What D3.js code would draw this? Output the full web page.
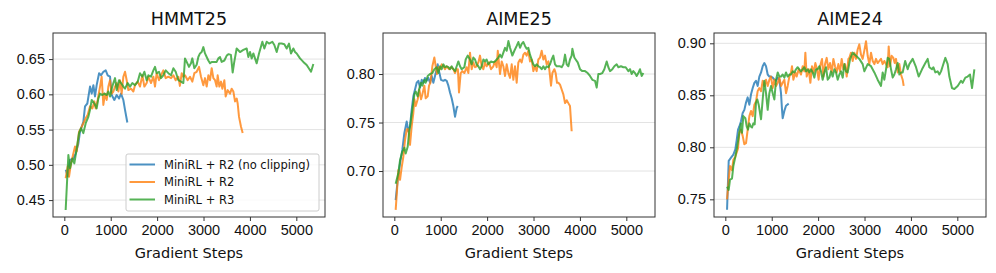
<!DOCTYPE html>
<html>
<head>
<meta charset="utf-8">
<script src="https://cdn.jsdelivr.net/npm/d3@7"></script>
<style>
    html, body { margin: 0; padding: 0; background: #fff; }
    svg { display: block; font-family: 'DejaVu Sans', sans-serif; }
</style>
</head>
<body>
<svg id="chart" width="996" height="273"></svg>
<script>
// === DATA ===
const panelTitles = ['HMMT25', 'AIME25', 'AIME24']
const seriesNames = ['MiniRL + R2 (no clipping)', 'MiniRL + R2', 'MiniRL + R3']
const xTicks = [0, 1000, 2000, 3000, 4000, 5000]
const yTicksHmmt = [0.45, 0.50, 0.55, 0.60, 0.65]
const yTicksAime25 = [0.70, 0.75, 0.80]
const yTicksAime24 = [0.75, 0.80, 0.85, 0.90]

// [gradient step, score]
const hmmtNoClip = [[30,0.493],[73,0.484],[123,0.507],[195,0.509],[245,0.516],[302,0.53],[338,0.547],[410,0.561],[446,0.583],[496,0.587],[554,0.611],[590,0.601],[626,0.613],[661,0.597],[697,0.613],[749,0.630],[792,0.627],[841,0.632],[892,0.634],[935,0.627],[985,0.625],[1021,0.599],[1078,0.592],[1129,0.599],[1179,0.594],[1222,0.601],[1272,0.592],[1308,0.578],[1358,0.560]]
const hmmtR2 = [[29,0.481],[73,0.498],[101,0.483],[144,0.502],[195,0.516],[231,0.526],[267,0.519],[317,0.547],[360,0.552],[410,0.559],[461,0.566],[504,0.571],[554,0.583],[604,0.58],[647,0.59],[676,0.58],[719,0.592],[770,0.611],[805,0.625],[841,0.585],[877,0.601],[913,0.592],[949,0.611],[985,0.62],[1021,0.601],[1057,0.604],[1093,0.611],[1129,0.616],[1165,0.604],[1200,0.62],[1236,0.601],[1272,0.625],[1308,0.632],[1344,0.62],[1380,0.606],[1437,0.608],[1488,0.604],[1523,0.613],[1581,0.618],[1631,0.611],[1682,0.627],[1725,0.611],[1775,0.616],[1811,0.625],[1868,0.616],[1919,0.625],[1954,0.611],[1990,0.63],[2041,0.62],[2084,0.627],[2134,0.634],[2185,0.623],[2242,0.625],[2300,0.623],[2350,0.627],[2400,0.62],[2458,0.625],[2490,0.612],[2530,0.63],[2565,0.625],[2601,0.627],[2658,0.62],[2709,0.625],[2759,0.618],[2802,0.63],[2852,0.632],[2903,0.639],[2946,0.625],[2996,0.613],[3032,0.623],[3068,0.611],[3104,0.627],[3140,0.62],[3176,0.637],[3212,0.623],[3248,0.62],[3283,0.611],[3305,0.627],[3341,0.611],[3377,0.618],[3406,0.608],[3449,0.62],[3477,0.597],[3520,0.606],[3571,0.601],[3607,0.608],[3643,0.604],[3679,0.59],[3715,0.594],[3736,0.587],[3765,0.568],[3808,0.554],[3844,0.545]]
const hmmtR3 = [[29,0.436],[87,0.514],[123,0.495],[173,0.509],[216,0.502],[267,0.523],[317,0.545],[360,0.552],[410,0.545],[461,0.559],[518,0.568],[554,0.578],[590,0.592],[647,0.587],[697,0.58],[733,0.594],[770,0.601],[820,0.599],[863,0.601],[913,0.599],[949,0.604],[985,0.597],[1021,0.608],[1057,0.616],[1093,0.623],[1129,0.606],[1179,0.62],[1222,0.616],[1272,0.611],[1308,0.608],[1366,0.616],[1416,0.611],[1466,0.616],[1523,0.613],[1581,0.618],[1631,0.63],[1682,0.625],[1725,0.632],[1775,0.62],[1811,0.627],[1868,0.625],[1919,0.634],[1954,0.639],[1990,0.63],[2041,0.632],[2084,0.623],[2134,0.627],[2185,0.634],[2242,0.63],[2300,0.627],[2350,0.637],[2400,0.632],[2458,0.62],[2515,0.618],[2565,0.616],[2601,0.651],[2637,0.646],[2687,0.639],[2730,0.644],[2759,0.651],[2802,0.637],[2852,0.642],[2888,0.653],[2924,0.658],[2960,0.66],[2996,0.667],[3032,0.658],[3068,0.653],[3104,0.648],[3140,0.644],[3176,0.646],[3233,0.646],[3283,0.646],[3320,0.651],[3355,0.653],[3391,0.646],[3449,0.648],[3500,0.655],[3540,0.657],[3590,0.656],[3628,0.631],[3660,0.645],[3714,0.665],[3786,0.66],[3858,0.663],[3930,0.665],[3966,0.653],[4002,0.66],[4038,0.651],[4074,0.658],[4146,0.644],[4196,0.658],[4268,0.6745],[4311,0.665],[4361,0.6745],[4411,0.672],[4483,0.6745],[4526,0.67],[4577,0.66],[4627,0.672],[4684,0.672],[4742,0.671],[4792,0.665],[4842,0.672],[4885,0.658],[4936,0.665],[4972,0.66],[5008,0.658],[5080,0.651],[5151,0.646],[5223,0.6415],[5317,0.632],[5367,0.643]]

const aime25NoClip = [[29,0.670],[73,0.691],[123,0.708],[173,0.722],[216,0.739],[267,0.751],[302,0.741],[338,0.746],[374,0.763],[410,0.777],[446,0.784],[482,0.791],[518,0.793],[554,0.786],[590,0.794],[626,0.791],[661,0.796],[697,0.793],[733,0.796],[770,0.791],[805,0.798],[841,0.791],[877,0.798],[913,0.805],[935,0.81],[963,0.803],[1006,0.794],[1057,0.793],[1093,0.794],[1129,0.793],[1165,0.788],[1200,0.781],[1236,0.775],[1272,0.767],[1308,0.756],[1344,0.765],[1366,0.767]]
const aime25R2 = [[29,0.660],[58,0.68],[87,0.701],[123,0.691],[159,0.704],[195,0.715],[231,0.732],[267,0.743],[302,0.743],[338,0.727],[374,0.746],[410,0.76],[432,0.774],[461,0.767],[504,0.774],[540,0.784],[576,0.774],[604,0.779],[647,0.788],[676,0.775],[719,0.777],[748,0.788],[777,0.791],[820,0.808],[863,0.817],[892,0.808],[920,0.8],[949,0.807],[985,0.805],[1021,0.81],[1057,0.808],[1093,0.805],[1129,0.808],[1179,0.805],[1222,0.807],[1272,0.805],[1308,0.801],[1344,0.805],[1370,0.805],[1394,0.781],[1430,0.801],[1466,0.803],[1509,0.801],[1559,0.807],[1595,0.801],[1631,0.822],[1667,0.805],[1703,0.812],[1739,0.807],[1775,0.808],[1811,0.812],[1847,0.819],[1883,0.808],[1919,0.805],[1954,0.812],[1990,0.808],[2041,0.812],[2084,0.805],[2134,0.808],[2170,0.813],[2206,0.807],[2230,0.824],[2278,0.8],[2314,0.813],[2350,0.808],[2386,0.798],[2422,0.81],[2458,0.801],[2494,0.796],[2530,0.81],[2565,0.794],[2601,0.808],[2637,0.791],[2673,0.812],[2709,0.815],[2745,0.812],[2781,0.82],[2817,0.822],[2852,0.819],[2888,0.824],[2924,0.813],[2960,0.815],[2996,0.803],[3032,0.808],[3068,0.803],[3104,0.815],[3140,0.817],[3176,0.824],[3212,0.815],[3248,0.819],[3283,0.81],[3320,0.813],[3355,0.798],[3377,0.788],[3406,0.801],[3449,0.805],[3477,0.801],[3506,0.791],[3535,0.791],[3571,0.789],[3607,0.784],[3643,0.779],[3679,0.77],[3715,0.773],[3750,0.77],[3786,0.767],[3822,0.741]]
const aime25R3 = [[29,0.687],[87,0.698],[123,0.711],[173,0.72],[216,0.724],[245,0.718],[288,0.725],[317,0.739],[360,0.753],[388,0.763],[432,0.779],[461,0.782],[504,0.777],[533,0.784],[576,0.791],[604,0.788],[647,0.794],[676,0.791],[719,0.798],[770,0.8],[820,0.801],[863,0.805],[913,0.807],[949,0.801],[985,0.808],[1021,0.805],[1057,0.81],[1093,0.807],[1129,0.808],[1165,0.807],[1200,0.805],[1236,0.808],[1272,0.805],[1308,0.803],[1344,0.808],[1380,0.813],[1416,0.808],[1452,0.805],[1509,0.807],[1538,0.815],[1581,0.819],[1631,0.815],[1667,0.81],[1703,0.817],[1739,0.815],[1775,0.81],[1811,0.808],[1847,0.805],[1883,0.808],[1919,0.815],[1954,0.813],[1990,0.815],[2026,0.81],[2084,0.813],[2134,0.812],[2170,0.813],[2206,0.815],[2242,0.817],[2278,0.82],[2314,0.817],[2350,0.822],[2386,0.827],[2422,0.824],[2458,0.834],[2494,0.827],[2544,0.819],[2587,0.824],[2637,0.829],[2673,0.833],[2709,0.827],[2745,0.831],[2781,0.833],[2817,0.829],[2852,0.826],[2888,0.827],[2924,0.82],[2960,0.815],[2996,0.81],[3032,0.808],[3068,0.81],[3104,0.808],[3140,0.807],[3176,0.805],[3212,0.808],[3248,0.805],[3283,0.808],[3320,0.807],[3355,0.81],[3391,0.815],[3427,0.819],[3463,0.81],[3499,0.808],[3535,0.808],[3571,0.808],[3607,0.807],[3643,0.81],[3679,0.82],[3715,0.81],[3751,0.808],[3786,0.815],[3822,0.819],[3837,0.826],[3880,0.817],[3908,0.815],[3952,0.812],[4002,0.805],[4052,0.803],[4110,0.803],[4167,0.801],[4217,0.798],[4268,0.794],[4325,0.793],[4361,0.786],[4397,0.8],[4433,0.8],[4483,0.801],[4526,0.805],[4577,0.813],[4613,0.807],[4649,0.803],[4699,0.805],[4742,0.808],[4792,0.81],[4828,0.807],[4885,0.808],[4936,0.807],[4986,0.807],[5044,0.803],[5080,0.805],[5115,0.8],[5151,0.803],[5187,0.801],[5223,0.798],[5259,0.801],[5295,0.805],[5331,0.798],[5367,0.801]]

const aime24NoClip = [[37,0.740],[73,0.787],[123,0.79],[173,0.793],[216,0.798],[245,0.807],[274,0.817],[302,0.82],[338,0.825],[374,0.833],[410,0.836],[446,0.843],[482,0.848],[518,0.841],[554,0.851],[590,0.857],[626,0.862],[661,0.864],[697,0.859],[733,0.868],[770,0.872],[805,0.878],[841,0.881],[877,0.878],[913,0.87],[949,0.868],[985,0.868],[1021,0.867],[1057,0.865],[1093,0.864],[1129,0.867],[1165,0.865],[1200,0.852],[1222,0.836],[1236,0.828],[1272,0.835],[1308,0.84],[1366,0.842]]
const aime24R2 = [[37,0.75],[73,0.769],[101,0.782],[144,0.778],[173,0.788],[216,0.791],[245,0.795],[274,0.799],[302,0.814],[338,0.817],[374,0.811],[410,0.803],[446,0.804],[482,0.817],[518,0.83],[554,0.835],[590,0.83],[626,0.841],[661,0.844],[697,0.854],[733,0.857],[770,0.854],[805,0.864],[841,0.859],[877,0.865],[913,0.859],[949,0.865],[985,0.868],[1021,0.857],[1057,0.865],[1093,0.859],[1129,0.862],[1165,0.867],[1200,0.859],[1236,0.862],[1272,0.865],[1308,0.852],[1344,0.859],[1380,0.868],[1416,0.872],[1437,0.878],[1466,0.865],[1509,0.872],[1538,0.868],[1581,0.875],[1631,0.87],[1667,0.878],[1703,0.873],[1725,0.891],[1754,0.868],[1797,0.875],[1833,0.862],[1868,0.878],[1904,0.872],[1940,0.881],[1976,0.875],[2011,0.865],[2041,0.878],[2084,0.885],[2113,0.868],[2149,0.88],[2185,0.886],[2221,0.875],[2257,0.881],[2293,0.872],[2329,0.885],[2364,0.878],[2400,0.872],[2436,0.88],[2472,0.873],[2508,0.885],[2544,0.875],[2580,0.88],[2616,0.868],[2652,0.885],[2673,0.886],[2709,0.891],[2745,0.883],[2781,0.891],[2817,0.885],[2852,0.894],[2888,0.899],[2924,0.889],[2960,0.885],[2996,0.893],[3032,0.902],[3068,0.888],[3104,0.88],[3140,0.891],[3176,0.883],[3212,0.88],[3248,0.885],[3283,0.881],[3320,0.883],[3355,0.885],[3391,0.88],[3427,0.883],[3463,0.88],[3499,0.877],[3521,0.897],[3549,0.878],[3585,0.888],[3621,0.886],[3650,0.881],[3679,0.885],[3715,0.872],[3751,0.88],[3786,0.87],[3822,0.865],[3844,0.859]]
const aime24R3 = [[37,0.762],[73,0.759],[101,0.769],[144,0.77],[173,0.782],[216,0.791],[245,0.798],[274,0.806],[302,0.814],[338,0.823],[360,0.814],[388,0.83],[432,0.828],[461,0.82],[489,0.817],[518,0.823],[547,0.82],[576,0.819],[604,0.823],[633,0.822],[661,0.843],[690,0.846],[719,0.841],[748,0.833],[770,0.827],[805,0.846],[841,0.864],[877,0.852],[913,0.836],[949,0.852],[985,0.859],[1021,0.852],[1057,0.846],[1093,0.865],[1129,0.872],[1165,0.868],[1200,0.868],[1236,0.87],[1272,0.867],[1308,0.872],[1344,0.868],[1380,0.87],[1416,0.87],[1452,0.873],[1488,0.872],[1523,0.875],[1559,0.877],[1595,0.875],[1631,0.873],[1667,0.875],[1703,0.877],[1739,0.873],[1775,0.875],[1811,0.872],[1847,0.875],[1883,0.872],[1919,0.867],[1954,0.875],[1990,0.875],[2026,0.878],[2062,0.873],[2098,0.865],[2134,0.872],[2170,0.877],[2206,0.865],[2242,0.867],[2278,0.873],[2314,0.868],[2350,0.875],[2386,0.872],[2422,0.865],[2458,0.87],[2494,0.873],[2530,0.867],[2565,0.88],[2601,0.873],[2637,0.872],[2690,0.885],[2745,0.891],[2817,0.888],[2888,0.885],[2960,0.88],[2996,0.873],[3068,0.88],[3140,0.878],[3212,0.872],[3283,0.865],[3355,0.859],[3391,0.872],[3427,0.865],[3463,0.875],[3499,0.886],[3535,0.885],[3571,0.875],[3607,0.867],[3643,0.87],[3679,0.875],[3715,0.881],[3751,0.87],[3786,0.872],[3822,0.872],[3876,0.883],[3930,0.875],[3966,0.88],[4038,0.885],[4110,0.877],[4167,0.868],[4239,0.875],[4311,0.881],[4361,0.885],[4397,0.877],[4454,0.875],[4483,0.877],[4526,0.872],[4577,0.873],[4613,0.87],[4649,0.873],[4684,0.878],[4742,0.886],[4792,0.88],[4828,0.868],[4885,0.857],[4936,0.856],[5008,0.859],[5080,0.864],[5115,0.862],[5173,0.867],[5223,0.868],[5273,0.87],[5317,0.857],[5367,0.875]]

// === CONFIG ===
const colors = ['#1f77b4', '#ff7f0e', '#2ca02c']
const panelLeft = [53, 383, 714]
const plot = { top: 33, width: 272, height: 184 }
const xDomain = [-244, 5618]

const panels = [
    { title: panelTitles[0], series: [hmmtNoClip, hmmtR2, hmmtR3], yDomain: [0.426, 0.687], yTicks: yTicksHmmt, legend: true },
    { title: panelTitles[1], series: [aime25NoClip, aime25R2, aime25R3], yDomain: [0.6526, 0.8423], yTicks: yTicksAime25 },
    { title: panelTitles[2], series: [aime24NoClip, aime24R2, aime24R3], yDomain: [0.733, 0.9099], yTicks: yTicksAime24 }
]

// === DRAW ===
const svg = d3.select('#chart')

function drawPanel(p, i) {
    const g = svg.append('g')
        .attr('transform', `translate(${panelLeft[i]},${plot.top})`)

    const x = d3.scaleLinear().domain(xDomain).range([0, plot.width])
    const y = d3.scaleLinear().domain(p.yDomain).range([plot.height, 0])

    // grid
    g.append('g').selectAll('line')
        .data(p.yTicks)
        .join('line')
        .attr('x1', 0).attr('x2', plot.width)
        .attr('y1', d => y(d)).attr('y2', d => y(d))
        .attr('stroke', '#e3e3e3')
        .attr('stroke-width', 1)

    // lines
    const line = d3.line().x(d => x(d[0])).y(d => y(d[1]))
    g.append('g').selectAll('path')
        .data(p.series)
        .join('path')
        .attr('d', line)
        .attr('fill', 'none')
        .attr('stroke', (d, k) => colors[k])
        .attr('stroke-opacity', 0.8)
        .attr('stroke-width', 2)
        .attr('stroke-linejoin', 'round')

    // axes
    const xAxis = g.append('g')
        .attr('transform', `translate(0,${plot.height})`)
        .call(d3.axisBottom(x).tickValues(xTicks).tickSize(4).tickPadding(4).tickFormat(d3.format('d')))
    const yAxis = g.append('g')
        .call(d3.axisLeft(y).tickValues(p.yTicks).tickSize(4).tickPadding(4).tickFormat(d3.format('.2f')))

    ;[xAxis, yAxis].forEach(a => {
        a.select('.domain').remove()
        a.selectAll('line').attr('stroke', '#333')
        a.selectAll('text').attr('fill', '#111').style('font-size', '14.5px')
    })

    // frame
    g.append('rect')
        .attr('x', 0).attr('y', 0)
        .attr('width', plot.width).attr('height', plot.height)
        .attr('fill', 'none')
        .attr('stroke', '#333')
        .attr('stroke-width', 1)

    g.append('text')
        .attr('x', plot.width / 2).attr('y', -8)
        .attr('text-anchor', 'middle')
        .style('font-size', '17.5px')
        .attr('fill', '#111')
        .text(p.title)

    g.append('text')
        .attr('x', plot.width / 2).attr('y', plot.height + 41)
        .attr('text-anchor', 'middle')
        .style('font-size', '14.5px')
        .attr('fill', '#111')
        .text('Gradient Steps')

    if (p.legend) drawLegend(g)
}

function drawLegend(g) {
    const lw = 193, lh = 57
    const lg = g.append('g')
        .attr('transform', `translate(${plot.width - 6 - lw},${plot.height - 6 - lh})`)

    lg.append('rect')
        .attr('width', lw).attr('height', lh)
        .attr('rx', 2)
        .attr('fill', '#fff').attr('fill-opacity', 0.8)
        .attr('stroke', '#ccc')

    const row = lg.selectAll('g.item')
        .data(seriesNames)
        .join('g')
        .attr('class', 'item')
        .attr('transform', (d, k) => `translate(0,${10.5 + k * 17.5})`)

    row.append('line')
        .attr('x1', 3.5).attr('x2', 29)
        .attr('stroke', (d, k) => colors[k])
        .attr('stroke-opacity', 0.8)
        .attr('stroke-width', 2)

    row.append('text')
        .attr('x', 38).attr('dy', '0.35em')
        .style('font-size', '11.5px')
        .attr('fill', '#111')
        .text(d => d)
}

panels.forEach(drawPanel)
</script>
</body>
</html>
